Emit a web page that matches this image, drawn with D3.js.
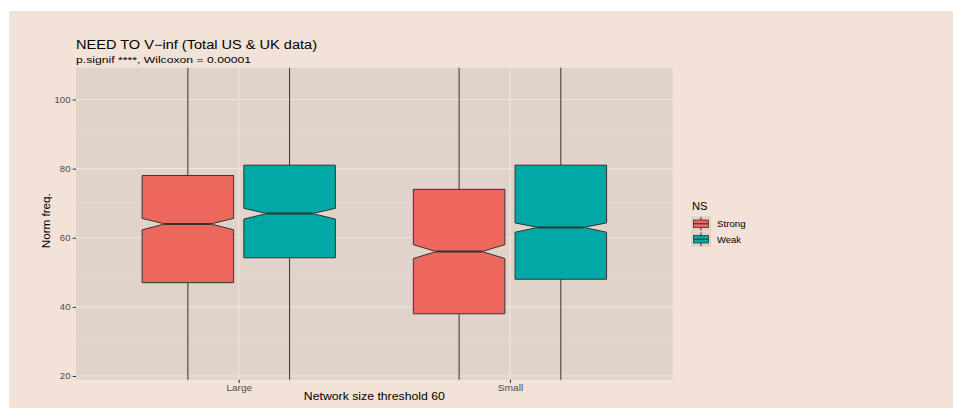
<!DOCTYPE html>
<html><head><meta charset="utf-8">
<script src="https://cdn.jsdelivr.net/npm/d3@7"></script>
<style>body{margin:0;background:#fff}svg{display:block}text{font-family:"Liberation Sans",Arial,sans-serif}</style>
</head><body>
<script>
const groups = ["Large", "Small"];
const seriesNames = ["Strong", "Weak"];
const colors = ["#ED685C", "#01A9A6"];
// [whiskerLow, q1, median, q3, whiskerHigh, notchLow, notchHigh]
const strongStats = [[0, 47, 64, 78, 130, 62.3, 65.6], [0, 38, 56, 74, 130, 54.0, 58.0]];
const weakStats = [[0, 54.2, 67, 81, 130, 65.4, 68.5], [0, 48, 63, 81, 130, 61.6, 64.3]];
const yTicks = [20, 40, 60, 80, 100];
const yMinor = [30, 50, 70, 90];

const W = 953, H = 408;
const svg = d3.select("body").append("svg").attr("width", W).attr("height", H);
svg.append("rect").attr("x", 9).attr("y", 11).attr("width", W - 9).attr("height", H - 11).attr("fill", "#F3E2D8");

const pl = 76, pr = 672.7, pt = 67.7, pb = 379.7;
const x = d3.scalePoint().domain(groups).range([pl, pr]).padding(0.6);
const y = d3.scaleLinear().domain([18.93, 109.2]).range([pb, pt]);
const unit = x.step();
const boxW = 0.3375 * unit;
const offsets = [-0.1875 * unit, 0.1875 * unit];

svg.append("rect").attr("x", pl).attr("y", pt).attr("width", pr - pl).attr("height", pb - pt).attr("fill", "#E1D3C9");
svg.append("defs").append("clipPath").attr("id", "clip").append("rect").attr("x", pl).attr("y", pt).attr("width", pr - pl).attr("height", pb - pt);

const grid = svg.append("g");
grid.selectAll(".mn").data(yMinor).join("line").attr("x1", pl).attr("x2", pr)
  .attr("y1", d => y(d)).attr("y2", d => y(d)).attr("stroke", "#EADDD3").attr("stroke-width", 0.6);
grid.selectAll(".mj").data(yTicks).join("line").attr("x1", pl).attr("x2", pr)
  .attr("y1", d => y(d)).attr("y2", d => y(d)).attr("stroke", "#EFE4DC").attr("stroke-width", 1.1);
grid.selectAll(".vx").data(groups).join("line").attr("y1", pt).attr("y2", pb)
  .attr("x1", d => x(d)).attr("x2", d => x(d)).attr("stroke", "#EFE4DC").attr("stroke-width", 1.1);

const boxes = svg.append("g").attr("clip-path", "url(#clip)");
function drawBox(g, cx, w, s, fill) {
  const [lo, q1, med, q3, hi, nl, nh] = s;
  const l = cx - w / 2, r = cx + w / 2, ni = w / 4;
  g.append("line").attr("x1", cx).attr("x2", cx).attr("y1", y(q3)).attr("y2", y(hi)).attr("stroke", "#333").attr("stroke-width", 1);
  g.append("line").attr("x1", cx).attr("x2", cx).attr("y1", y(q1)).attr("y2", y(lo)).attr("stroke", "#333").attr("stroke-width", 1);
  const pts = [[l, y(q3)], [r, y(q3)], [r, y(nh)], [r - ni, y(med)], [r, y(nl)], [r, y(q1)], [l, y(q1)], [l, y(nl)], [l + ni, y(med)], [l, y(nh)]];
  g.append("path").attr("d", d3.line()(pts) + "Z").attr("fill", fill).attr("stroke", "#333").attr("stroke-width", 1);
  g.append("line").attr("x1", l + ni).attr("x2", r - ni).attr("y1", y(med)).attr("y2", y(med)).attr("stroke", "#333").attr("stroke-width", 2);
}
groups.forEach((gname, i) => {
  [strongStats, weakStats].forEach((st, j) => {
    drawBox(boxes, x(gname) + offsets[j], boxW, st[i], colors[j]);
  });
});

// axes
const yAx = svg.append("g").attr("transform", `translate(${pl},0)`).call(d3.axisLeft(y).tickValues(yTicks).tickSize(3.3).tickPadding(2.2));
yAx.select(".domain").remove();
yAx.selectAll("line").attr("stroke", "#333");
yAx.selectAll("text").attr("fill", "#4D4D4D").style("font-size", "8.5px")
  .attr("textLength", d => d >= 100 ? 16 : 10.7).attr("lengthAdjust", "spacingAndGlyphs");
const xAx = svg.append("g").attr("transform", `translate(0,${pb})`).call(d3.axisBottom(x).tickSize(3.3).tickPadding(2.2));
xAx.select(".domain").remove();
xAx.selectAll("line").attr("stroke", "#333");
xAx.selectAll("text").attr("fill", "#4D4D4D").style("font-size", "8.5px")
  .attr("textLength", 25.5).attr("lengthAdjust", "spacingAndGlyphs");

function txt(xp, yp, s, size, len, anchor) {
  return svg.append("text").attr("x", xp).attr("y", yp).text(s).style("font-size", size + "px").attr("fill", "#000")
    .attr("text-anchor", anchor || "start").attr("textLength", len).attr("lengthAdjust", "spacingAndGlyphs");
}
txt(pl, 49, "NEED TO V\u2212inf (Total US & UK data)", 12, 241);
txt(pl, 63, "p.signif ****, Wilcoxon = 0.00001", 9.5, 175);
txt((pl + pr) / 2, 400, "Network size threshold 60", 10, 141, "middle");
svg.append("text").attr("transform", `translate(49.5,${(pt + pb) / 2 - 3}) rotate(-90)`).attr("text-anchor", "middle")
  .text("Norm freq.").style("font-size", "10px").attr("fill", "#000").attr("textLength", 55).attr("lengthAdjust", "spacingAndGlyphs");

// legend
const lg = svg.append("g");
txt(692, 210, "NS", 10, 15.5);
seriesNames.forEach((n, i) => {
  const ky = 216 + i * 15.5;
  lg.append("rect").attr("x", 691).attr("y", ky).attr("width", 20).attr("height", 15.5).attr("fill", "#E1D3C9");
  lg.append("line").attr("x1", 701).attr("x2", 701).attr("y1", ky + 1).attr("y2", ky + 14.5).attr("stroke", "#333");
  lg.append("rect").attr("x", 693.5).attr("y", ky + 4).attr("width", 15).attr("height", 7.5).attr("fill", colors[i]).attr("stroke", "#333").attr("stroke-width", 0.8);
  lg.append("line").attr("x1", 693.5).attr("x2", 708.5).attr("y1", ky + 7.75).attr("y2", ky + 7.75).attr("stroke", "#333").attr("stroke-width", 1);
  txt(717, ky + 11, n, 8.5, n === "Strong" ? 28.7 : 24);
});
</script>
</body></html>
